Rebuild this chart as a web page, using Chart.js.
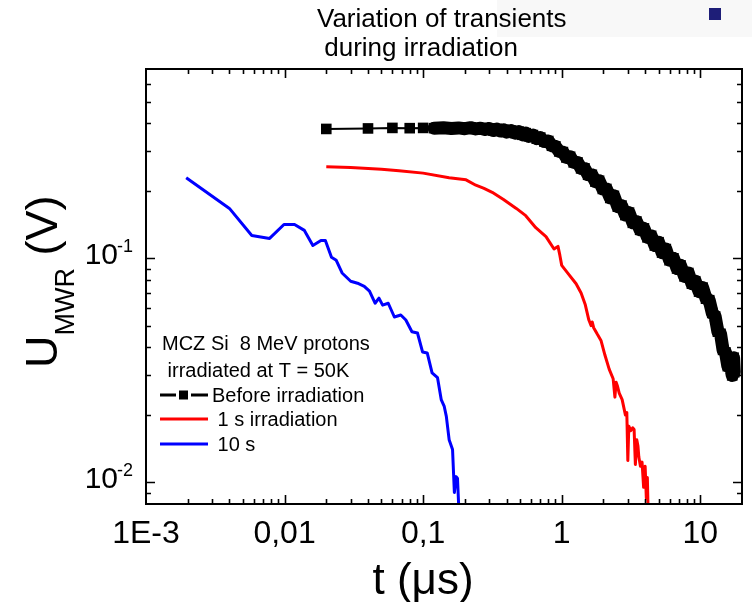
<!DOCTYPE html>
<html>
<head>
<meta charset="utf-8">
<script src="https://cdn.jsdelivr.net/npm/chart.js@4.4.0/dist/chart.umd.min.js"></script>
<style>
  html, body { margin: 0; padding: 0; background: #fff; }
  canvas { display: block; }
</style>
</head>
<body>
<canvas id="chart" width="752" height="602"></canvas>
<script>
// t in microseconds, U_MWR in volts
const beforeT = [0.02, 0.04, 0.06, 0.08, 0.10, 0.12, 0.14, 0.16, 0.18, 0.20,
  0.22, 0.24, 0.26, 0.28, 0.30, 0.32, 0.34, 0.36, 0.38, 0.40, 0.43, 0.46, 0.49,
  0.52, 0.55, 0.58, 0.62, 0.66, 0.70, 0.75, 0.80, 0.85, 0.90, 0.96, 1.02, 1.08,
  1.15, 1.22, 1.30, 1.38, 1.46, 1.55, 1.65, 1.75, 1.86, 1.98, 2.10, 2.24, 2.38,
  2.54, 2.70, 2.88, 3.06, 3.26, 3.46, 3.68, 3.92, 4.16, 4.42, 4.70, 5.00, 5.30,
  5.64, 6.00, 6.40, 6.80, 7.20, 7.70, 8.20, 8.70, 9.20, 9.80, 10.4, 11.0, 11.6,
  12.2, 12.8, 13.4, 14.0, 14.6, 15.2, 15.8, 16.4, 17.0, 17.4, 17.6];
const beforeV = [0.378, 0.380, 0.382, 0.381, 0.382, 0.381, 0.383, 0.380, 0.382, 0.379,
  0.383, 0.378, 0.381, 0.376, 0.380, 0.372, 0.378, 0.370, 0.375, 0.366, 0.372, 0.362, 0.368,
  0.356, 0.362, 0.350, 0.355, 0.342, 0.346, 0.332, 0.334, 0.318, 0.316, 0.300, 0.298, 0.282,
  0.284, 0.268, 0.268, 0.252, 0.252, 0.236, 0.236, 0.220, 0.222, 0.204, 0.204, 0.186, 0.190,
  0.170, 0.172, 0.156, 0.160, 0.144, 0.146, 0.134, 0.136, 0.124, 0.126, 0.114, 0.118, 0.106,
  0.110, 0.098, 0.100, 0.090, 0.093, 0.083, 0.086, 0.077, 0.079, 0.071, 0.074, 0.066, 0.065,
  0.057, 0.055, 0.047, 0.046, 0.039, 0.038, 0.033, 0.034, 0.030, 0.036, 0.031];

const oneSecT = [0.02, 0.03, 0.05, 0.067, 0.1, 0.154, 0.204, 0.24, 0.275, 0.315,
  0.38, 0.47, 0.55, 0.65, 0.77, 0.88, 0.92, 0.94, 0.97, 1.0, 1.12, 1.27, 1.38,
  1.48, 1.57, 1.63, 1.66, 1.70, 1.8, 1.92, 2.05, 2.2, 2.35, 2.42, 2.47, 2.52,
  2.6, 2.73, 2.88, 2.95, 3.0, 3.05, 3.15, 3.25, 3.33, 3.4, 3.48, 3.55, 3.6,
  3.7, 3.8, 3.9, 4.0, 4.08, 4.15, 4.2, 4.25];
const oneSecV = [0.256, 0.254, 0.250, 0.246, 0.240, 0.229, 0.224, 0.212, 0.205, 0.197,
  0.183, 0.167, 0.155, 0.137, 0.125, 0.110, 0.112, 0.113, 0.103, 0.093, 0.085, 0.077, 0.070,
  0.062, 0.053, 0.050, 0.052, 0.049, 0.046, 0.043, 0.037, 0.032, 0.029, 0.024, 0.028, 0.027,
  0.025, 0.0234, 0.020, 0.0205, 0.0125, 0.0178, 0.017, 0.0175, 0.0172, 0.012, 0.0155, 0.0145, 0.013,
  0.0118, 0.0123, 0.0095, 0.0118, 0.0085, 0.0105, 0.0075, 0.007];

const tenSecT = [0.00195, 0.004, 0.0058, 0.0078, 0.0099, 0.0118, 0.0139, 0.016, 0.0183,
  0.0197, 0.0218, 0.0236, 0.026, 0.030, 0.0336, 0.0376, 0.041, 0.045, 0.048, 0.051,
  0.056, 0.062, 0.069, 0.075, 0.083, 0.091, 0.099, 0.107, 0.116, 0.127, 0.135, 0.142,
  0.147, 0.154, 0.163, 0.168, 0.173, 0.177, 0.182];
const tenSecV = [0.229, 0.167, 0.1265, 0.1227, 0.1415, 0.1415, 0.1332, 0.114, 0.120,
  0.120, 0.101, 0.098, 0.086, 0.079, 0.0774, 0.075, 0.0714, 0.063, 0.0664, 0.0618,
  0.063, 0.0547, 0.0558, 0.053, 0.047, 0.0464, 0.0382, 0.0378, 0.0308, 0.0293, 0.0234, 0.0218,
  0.0197, 0.0155, 0.0140, 0.0090, 0.0106, 0.0104, 0.007];

const seriesNames = ['Before irradiation', '1 s irradiation', '10 s'];
const legendTitle = ['MCZ Si  8 MeV protons', ' irradiated at T = 50K'];
const xTickValues = [0.001, 0.01, 0.1, 1, 10];
const xTickLabels = ['1E-3', '0,01', '0,1', '1', '10'];
const yTickValues = [0.1, 0.01];
const yTickExps = ['-1', '-2'];

const FONT = '"Liberation Sans", Arial, sans-serif';

const toPoints = (ts, vs) => ts.map((t, i) => ({ x: t, y: vs[i] }));

// frame, inward ticks, labels, titles and the in-plot legend
const decorations = {
  id: 'decorations',
  beforeDraw(chart) {
    const c = chart.ctx;
    c.save();
    c.fillStyle = '#fff';
    c.fillRect(0, 0, chart.width, chart.height);
    c.fillStyle = '#f8f8f8';
    c.fillRect(497, 0, 255, 37);
    c.restore();
  },
  afterDraw(chart) {
    const c = chart.ctx;
    const a = chart.chartArea;
    const xs = chart.scales.x, ys = chart.scales.y;
    const isWhole = v => {
      const m = v / Math.pow(10, Math.floor(Math.log10(v) + 1e-9));
      return Math.abs(m - Math.round(m)) < 1e-6;
    };
    const isMajor = v => Math.abs(Math.log10(v) - Math.round(Math.log10(v))) < 1e-6;

    c.save();
    c.strokeStyle = '#000';
    c.lineWidth = 2;
    c.strokeRect(a.left, a.top, a.right - a.left, a.bottom - a.top);

    c.lineWidth = 1.6;
    c.beginPath();
    xs.ticks.forEach(tk => {
      if (!isWhole(tk.value)) return;
      const px = Math.round(xs.getPixelForValue(tk.value)) + 0.5;
      if (px <= a.left + 2 || px >= a.right - 2) return;
      const len = isMajor(tk.value) ? 9 : 5;
      c.moveTo(px, a.bottom); c.lineTo(px, a.bottom - len);
      c.moveTo(px, a.top); c.lineTo(px, a.top + len);
    });
    ys.ticks.forEach(tk => {
      if (!isWhole(tk.value)) return;
      const py = Math.round(ys.getPixelForValue(tk.value)) + 0.5;
      if (py <= a.top + 2 || py >= a.bottom - 2) return;
      const len = isMajor(tk.value) ? 9 : 5;
      c.moveTo(a.left, py); c.lineTo(a.left + len, py);
      c.moveTo(a.right, py); c.lineTo(a.right - len, py);
    });
    c.stroke();

    c.fillStyle = '#000';
    // x tick labels
    c.font = '32px ' + FONT;
    c.textAlign = 'center';
    c.textBaseline = 'alphabetic';
    xTickValues.forEach((v, i) => {
      c.fillText(xTickLabels[i], xs.getPixelForValue(v), a.bottom + 39);
    });
    // y tick labels 10^n
    yTickValues.forEach((v, i) => {
      const py = ys.getPixelForValue(v);
      c.font = '30px ' + FONT;
      c.textAlign = 'right';
      c.fillText('10', 118, py + 6);
      c.font = '18px ' + FONT;
      c.textAlign = 'left';
      c.fillText(yTickExps[i], 117, py - 6);
    });

    // x title
    c.font = '44px ' + FONT;
    c.textAlign = 'center';
    c.fillText('t (\u03bcs)', (a.left + a.right) / 2 - 21, 594);

    // y title, rotated, with subscript
    c.save();
    c.translate(57, 368);
    c.rotate(-Math.PI / 2);
    c.textAlign = 'left';
    c.font = '45px ' + FONT;
    c.fillText('U', 0, 0);
    let w = c.measureText('U').width;
    c.font = '27px ' + FONT;
    c.fillText('MWR', w, 17);
    w += c.measureText('MWR').width;
    c.font = '45px ' + FONT;
    c.fillText(' (V)', w, 0);
    c.restore();

    // chart title
    c.font = '26px ' + FONT;
    c.textAlign = 'left';
    c.fillText('Variation of transients', 317, 27);
    c.fillText(' during irradiation', 317, 56);
    c.fillStyle = '#1e1e78';
    c.fillRect(709, 8, 12, 12);

    // legend
    c.fillStyle = '#000';
    c.font = '20px ' + FONT;
    c.fillText(legendTitle[0], 162, 350);
    c.fillText(legendTitle[1], 162, 377);
    const rowY = [395, 419, 444];
    chart.data.datasets.forEach((ds, i) => {
      const y = rowY[i];
      c.strokeStyle = ds.borderColor;
      c.lineWidth = 3;
      c.beginPath();
      if (i === 0) {
        c.moveTo(160, y); c.lineTo(176, y);
        c.moveTo(191, y); c.lineTo(208, y);
        c.stroke();
        c.fillStyle = ds.borderColor;
        c.fillRect(179, y - 4.5, 9, 9);
      } else {
        c.moveTo(160, y); c.lineTo(208, y);
        c.stroke();
      }
      c.fillStyle = '#000';
      c.fillText((i === 0 ? '' : ' ') + seriesNames[i], 212, y + 7);
    });
    c.restore();
  }
};

new Chart(document.getElementById('chart'), {
  type: 'line',
  data: {
    datasets: [
      {
        label: seriesNames[0],
        data: toPoints(beforeT, beforeV),
        borderColor: '#000',
        backgroundColor: '#000',
        borderWidth: 2,
        borderJoinStyle: 'round',
        borderCapStyle: 'round',
        pointStyle: 'rect',
        pointRadius: 7.5,
        pointBorderWidth: 0,
        tension: 0,
        // dense part of the record reads as a thick band
        segment: { borderWidth: ctx => (ctx.p0.parsed.x >= 0.11 ? 13 : 2) }
      },
      {
        label: seriesNames[1],
        data: toPoints(oneSecT, oneSecV),
        borderColor: '#ff0000',
        borderWidth: 3,
        borderJoinStyle: 'round',
        pointRadius: 0,
        tension: 0
      },
      {
        label: seriesNames[2],
        data: toPoints(tenSecT, tenSecV),
        borderColor: '#0000ff',
        borderWidth: 3,
        borderJoinStyle: 'round',
        pointRadius: 0,
        tension: 0
      }
    ]
  },
  options: {
    responsive: false,
    animation: false,
    layout: { padding: { left: 146, top: 69, right: 10, bottom: 98 } },
    plugins: {
      legend: { display: false },
      tooltip: { enabled: false }
    },
    scales: {
      x: {
        type: 'logarithmic',
        min: 0.001,
        max: 20,
        grid: { display: false, drawTicks: false },
        border: { display: false },
        ticks: { display: false }
      },
      y: {
        type: 'logarithmic',
        min: 0.008,
        max: 0.7,
        grid: { display: false, drawTicks: false },
        border: { display: false },
        ticks: { display: false }
      }
    }
  },
  plugins: [decorations]
});
</script>
</body>
</html>
